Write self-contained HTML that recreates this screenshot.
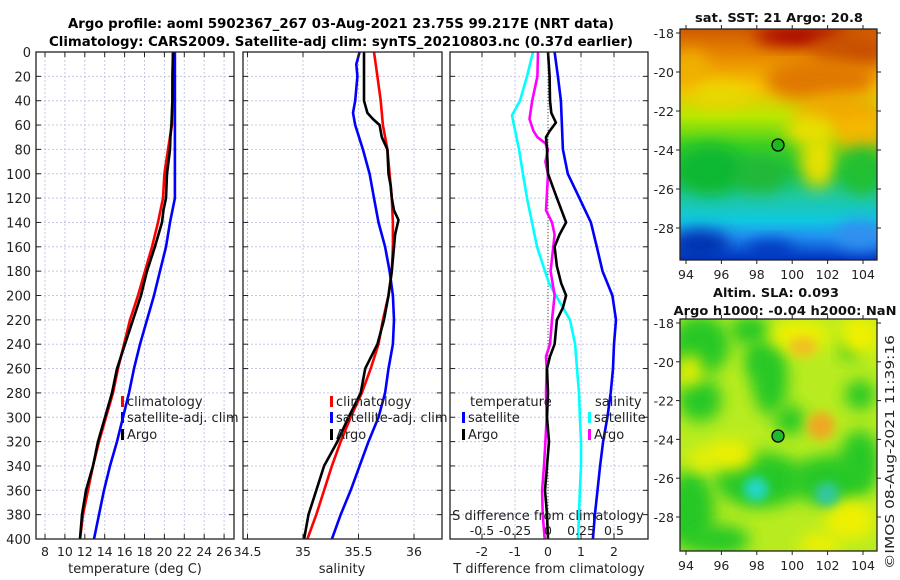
<!DOCTYPE html>
<html><head><meta charset="utf-8"><style>
html,body{margin:0;padding:0;background:#fff}
svg{display:block;font-family:"DejaVu Sans","Liberation Sans",sans-serif}
</style></head><body>
<svg id="fig" width="900" height="580" viewBox="0 0 900 580" xmlns="http://www.w3.org/2000/svg">
<defs>
<filter id="blur8" x="-50%" y="-50%" width="200%" height="200%"><feGaussianBlur stdDeviation="8"/></filter>
<filter id="blur5" x="-50%" y="-50%" width="200%" height="200%"><feGaussianBlur stdDeviation="5"/></filter>
<clipPath id="m1clip"><rect x="680" y="29" width="197" height="231"/></clipPath>
<clipPath id="m2clip"><rect x="680" y="319" width="197" height="232"/></clipPath>
<linearGradient id="sstg" x1="0" y1="0" x2="0" y2="1">
<stop offset="0" stop-color="#d05a00"/><stop offset="0.12" stop-color="#e88a00"/>
<stop offset="0.25" stop-color="#f8c400"/><stop offset="0.38" stop-color="#b8e800"/>
<stop offset="0.5" stop-color="#40d020"/><stop offset="0.62" stop-color="#18c040"/>
<stop offset="0.72" stop-color="#20c8a0"/><stop offset="0.83" stop-color="#10c8e0"/>
<stop offset="0.9" stop-color="#2090f0"/><stop offset="1" stop-color="#0030c0"/>
</linearGradient>
</defs>
<text x="341" y="28" text-anchor="middle" font-size="13" font-weight="bold" textLength="546" lengthAdjust="spacingAndGlyphs">Argo profile: aoml 5902367_267 03-Aug-2021 23.75S 99.217E (NRT data)</text>
<text x="341" y="46" text-anchor="middle" font-size="13" font-weight="bold" textLength="584" lengthAdjust="spacingAndGlyphs">Climatology: CARS2009. Satellite-adj clim: synTS_20210803.nc (0.37d earlier)</text>
<g id="panels"></g>
<g id="maps"></g>
</svg>
<script>
// ---- data ----
const depthT = [0,20,40,60,80,100,120,140,160,180,200,220,240,260,280,300,320,340,360,380,400];
const tempClim = [20.86,20.86,20.8,20.75,20.36,20.0,19.86,19.36,18.75,18.05,17.35,16.54,15.94,15.34,14.83,14.13,13.43,12.82,12.32,11.82,11.52];
const tempSat = [21.06,21.06,21.06,21.06,21.06,21.06,21.06,20.56,20.16,19.56,18.95,18.25,17.55,16.94,16.44,15.84,15.24,14.53,13.93,13.43,12.92];
const depthArgo = [0,20,40,60,70,80,100,120,130,140,160,180,200,220,240,260,280,300,320,340,360,380,400];
const tempArgo = [20.86,20.8,20.8,20.7,20.6,20.56,20.26,20.16,19.9,19.76,19.05,18.25,17.65,16.84,16.04,15.24,14.73,14.03,13.33,12.82,12.12,11.72,11.52];
const depthS = [0,20,40,60,80,100,120,140,160,180,200,220,240,260,280,300,320,340,360,380,400];
const salClim = [35.64,35.67,35.70,35.72,35.76,35.78,35.80,35.81,35.81,35.80,35.77,35.72,35.68,35.61,35.53,35.43,35.34,35.26,35.19,35.12,35.04];
const depthSatS = [0,10,20,40,50,60,80,100,120,140,160,180,200,220,240,260,280,300,320,340,360,380,400];
const salSat = [35.51,35.48,35.49,35.47,35.45,35.47,35.54,35.60,35.64,35.68,35.74,35.78,35.81,35.82,35.81,35.77,35.74,35.68,35.59,35.51,35.43,35.34,35.26];
const depthArgoS = [0,20,40,50,55,60,70,80,100,110,120,130,138,150,160,180,200,220,240,260,280,300,320,340,360,380,400];
const salArgo = [35.55,35.55,35.55,35.58,35.63,35.69,35.71,35.76,35.77,35.79,35.80,35.82,35.86,35.83,35.82,35.80,35.77,35.73,35.67,35.56,35.52,35.41,35.31,35.19,35.12,35.05,35.01];
const depthDT = [0,20,40,60,80,100,120,140,160,180,200,220,240,260,280,300,320,340,360,380,400];
const dTsat = [0.2,0.3,0.39,0.42,0.45,0.6,0.95,1.3,1.48,1.65,1.95,2.06,2.0,1.97,1.9,1.8,1.67,1.58,1.5,1.42,1.36];
const depthDTA = [0,20,40,50,58,65,70,80,100,120,140,150,160,176,190,200,210,220,240,250,260,280,300,320,340,360,380,400];
const dTargo = [0,0.05,0.06,0.1,0.24,0.05,-0.06,-0.03,0,0.27,0.55,0.35,0.2,0.27,0.4,0.55,0.45,0.27,0.2,0.06,-0.03,0,-0.03,0.03,-0.03,-0.09,-0.03,0];
const depthDS = [0,10,20,40,52,60,80,100,120,140,160,180,190,200,220,240,260,280,300,320,340,360,380,400];
const dSsat = [-0.114,-0.136,-0.159,-0.212,-0.273,-0.258,-0.22,-0.19,-0.159,-0.121,-0.083,-0.023,0.008,0.06,0.167,0.205,0.22,0.235,0.242,0.25,0.25,0.242,0.235,0.227];
const depthDSA = [0,20,40,55,65,70,75,80,90,100,120,130,140,150,160,180,200,220,240,250,260,280,300,320,340,360,380,400];
const dSargo = [-0.076,-0.08,-0.12,-0.14,-0.11,-0.08,-0.02,0,-0.02,0,-0.01,-0.015,0.03,0.05,0.04,0.02,0.05,0.03,0.015,-0.015,-0.01,-0.015,-0.01,-0.02,-0.03,-0.045,-0.04,-0.025];
const depthTicks = [0,20,40,60,80,100,120,140,160,180,200,220,240,260,280,300,320,340,360,380,400];
const tempTicks = [8,10,12,14,16,18,20,22,24,26];
const salTicks = [34.5,35,35.5,36];
const dTTicks = [-2,-1,0,1,2];
const dSTicks = [-0.5,-0.25,0,0.25,0.5];
const lonTicks = [94,96,98,100,102,104];
const latTicks = [-18,-20,-22,-24,-26,-28];

const NS="http://www.w3.org/2000/svg";
function mk(tag,attrs,parent){const e=document.createElementNS(NS,tag);for(const k in attrs)e.setAttribute(k,attrs[k]);parent.appendChild(e);return e;}
const P=document.getElementById('panels');
const TOP=52,BOT=539;
const yD=d=>TOP+d*(BOT-TOP)/400;
const xT=t=>45+(t-8)*9.95;
const xS=s=>303+(s-35)*111;
const xdT=v=>548+v*33;
const xdS=v=>548+v*132;
const panels=[[36,234],[243,442],[450,648]];

panels.forEach((p,i)=>{
  const g=mk('g',{},P);
  
  
  depthTicks.forEach(d=>{
    const l=mk('line',{x1:p[0],x2:p[1],y1:yD(d),y2:yD(d),stroke:'#c4c8e6','stroke-width':1,'stroke-dasharray':'2,2'},g);
    
    
  });
  const vt=i===0?tempTicks.map(xT):i===1?salTicks.map(xS):dTTicks.map(xdT);
  vt.forEach(x=>{
    const l=mk('line',{x1:x,x2:x,y1:TOP,y2:BOT,stroke:'#c4c8e6','stroke-width':1,'stroke-dasharray':'2,2'},g);
    
    
  });
});

function line(xs,ds,fx,color,name,w){
  let d='';
  xs.forEach((v,k)=>{d+=(k?'L':'M')+fx(v).toFixed(1)+','+yD(ds[k]).toFixed(1);});
  const e=mk('path',{d:d,fill:'none',stroke:color,'stroke-width':w||2.6,'stroke-linejoin':'round'},P);
  
  
}
const zl=mk('line',{x1:xdT(0),x2:xdT(0),y1:TOP,y2:BOT,stroke:'#555533','stroke-width':1,'stroke-dasharray':'1,2'},P);



line(tempClim,depthT,xT,'#ff0000','temp-climatology-line');
line(tempSat,depthT,xT,'#0000ff','temp-satellite-line');
line(tempArgo,depthArgo,xT,'#000000','temp-argo-line');
line(salClim,depthS,xS,'#ff0000','sal-climatology-line');
line(salSat,depthSatS,xS,'#0000ff','sal-satellite-line');
line(salArgo,depthArgoS,xS,'#000000','sal-argo-line');
line(dSsat,depthDS,xdS,'#00ffff','sdiff-satellite-line');
line(dTsat,depthDT,xdT,'#0000ff','tdiff-satellite-line');
line(dSargo,depthDSA,xdS,'#ff00ff','sdiff-argo-line');
line(dTargo,depthDTA,xdT,'#000000','tdiff-argo-line');

panels.forEach((p,i)=>{
  const f=mk('rect',{x:p[0],y:TOP,width:p[1]-p[0],height:BOT-TOP,fill:'none',stroke:'#222','stroke-width':1.3},P);
  
  
  depthTicks.forEach(d=>{
    const y=yD(d);
    mk('line',{x1:p[0],x2:p[0]+5,y1:y,y2:y,stroke:'#222'},P);
    mk('line',{x1:p[1]-5,x2:p[1],y1:y,y2:y,stroke:'#222'},P);
  });
  const vt=i===0?tempTicks.map(xT):i===1?salTicks.map(xS):dTTicks.map(xdT);
  vt.forEach(x=>{mk('line',{x1:x,x2:x,y1:BOT,y2:BOT-5,stroke:'#222'},P);mk('line',{x1:x,x2:x,y1:TOP,y2:TOP+5,stroke:'#222'},P);});
});
depthTicks.forEach(d=>{
  const t=mk('text',{x:31,y:yD(d)+5,'text-anchor':'end','font-size':13,fill:'#222'},P);
  t.textContent=d;
  
  
});
function xlab(vals,fx,y,fmt,name){
  vals.forEach(v=>{
    const t=mk('text',{x:fx(v),y:y,'text-anchor':'middle','font-size':12.5,fill:'#222'},P);
    t.textContent=fmt(v);
    
    
  });
}
xlab(tempTicks,xT,556,v=>String(v),'temp-tick-label');
xlab(salTicks,xS,556,v=>String(v),'sal-tick-label');
xlab(dTTicks,xdT,556,v=>String(v),'tdiff-tick-label');
xlab(dSTicks,xdS,535,v=>String(v),'sdiff-tick-label');
function txt(x,y,s,name,opts){
  const t=mk('text',Object.assign({x:x,y:y,'font-size':13,fill:'#222'},opts||{}),P);
  t.textContent=s;
  
  
  return t;
}
txt(135,573,'temperature (deg C)','temp-axis-title',{'text-anchor':'middle'});
txt(342,573,'salinity','sal-axis-title',{'text-anchor':'middle'});
txt(549,573,'T difference from climatology','tdiff-axis-title',{'text-anchor':'middle'});
txt(548,520,'S difference from climatology','sdiff-axis-title',{'text-anchor':'middle'});

function legend(x,y,color,label,name){
  const r=mk('rect',{x:x,y:y-10,width:3,height:11,fill:color},P);
  
  
  txt(x+6,y,label,name);
}
legend(121,406,'#ff0000','climatology','legend-t-climatology');
legend(121,422,'#0000ff','satellite-adj. clim','legend-t-satellite');
legend(121,439,'#000000','Argo','legend-t-argo');
legend(330,406,'#ff0000','climatology','legend-s-climatology');
legend(330,422,'#0000ff','satellite-adj. clim','legend-s-satellite');
legend(330,439,'#000000','Argo','legend-s-argo');
txt(470,406,'temperature','legend-temperature-heading');
legend(462,422,'#0000ff','satellite','legend-tdiff-satellite');
legend(462,439,'#000000','Argo','legend-tdiff-argo');
txt(595,406,'salinity','legend-salinity-heading');
legend(588,422,'#00ffff','satellite','legend-sdiff-satellite');
legend(588,439,'#ff00ff','Argo','legend-sdiff-argo');

// ---- maps ----
const M=document.getElementById('maps');
function ell(g,cx,cy,rx,ry,c,f){mk('ellipse',{cx:cx,cy:cy,rx:rx,ry:ry,fill:c,filter:'url(#'+(f||'blur8')+')'},g);}
const m1=mk('g',{'clip-path':'url(#m1clip)'},M);


mk('rect',{x:680,y:29,width:197,height:231,fill:'url(#sstg)'},m1);
ell(m1,800,36,45,10,'#a80000');ell(m1,850,50,40,18,'#c85000');ell(m1,820,80,55,22,'#e07800');
ell(m1,840,115,45,22,'#f0a800');ell(m1,860,135,25,20,'#f8b800');ell(m1,818,160,18,28,'#e8e000');ell(m1,810,130,25,15,'#e8e000');
ell(m1,690,70,20,20,'#f0b000');ell(m1,720,95,30,12,'#e8d800');
ell(m1,710,170,35,25,'#10b830');ell(m1,760,175,25,18,'#20b838');ell(m1,862,170,20,25,'#20c030');
ell(m1,700,245,30,15,'#0030b0');ell(m1,770,250,25,10,'#0038c0');ell(m1,860,235,25,15,'#3090f0');
const m2=mk('g',{'clip-path':'url(#m2clip)'},M);


mk('rect',{x:680,y:319,width:197,height:232,fill:'#b8ec20'},m2);
[[700,345,30,30],[750,330,20,15],[770,380,18,35],[700,400,22,22],[690,510,25,40],[760,480,45,28],[830,480,40,25],[860,460,20,30],[860,395,15,15],[850,350,10,10],[720,540,30,15],[790,420,15,15],[760,360,15,20]].forEach(a=>ell(m2,a[0],a[1],a[2],a[3],'#28c828'));
[[860,335,20,20],[800,335,30,15],[690,370,12,15],[730,455,25,15],[850,520,25,20],[820,545,20,12],[700,460,12,10]].forEach(a=>ell(m2,a[0],a[1],a[2],a[3],'#f0f000'));
ell(m2,803,347,14,10,'#f0c020','blur5');ell(m2,821,426,14,14,'#f0a820','blur5');
ell(m2,756,489,12,12,'#20d8c8','blur5');ell(m2,827,494,12,12,'#30c8a0','blur5');
[[29,260,'sst'],[319,551,'sla']].forEach((b,i)=>{
  const f=mk('rect',{x:680,y:b[0],width:197,height:b[1]-b[0],fill:'none',stroke:'#222','stroke-width':1.3},M);
  
  
  const y0=i?323:33, dy=i?19.4:19.5;
  latTicks.forEach(v=>{
    const y=y0+(-18-v)*dy;
    mk('line',{x1:680,x2:676,y1:y,y2:y,stroke:'#222'},M);
    mk('line',{x1:877,x2:881,y1:y,y2:y,stroke:'#222'},M);
    const t=mk('text',{x:674,y:y+5,'text-anchor':'end','font-size':12.5,fill:'#222'},M);
    t.textContent=v;
    
    
  });
  lonTicks.forEach(v=>{
    const x=686+(v-94)*17.7;
    mk('line',{x1:x,x2:x,y1:b[1],y2:b[1]+4,stroke:'#222'},M);
    mk('line',{x1:x,x2:x,y1:b[0],y2:b[0]-4,stroke:'#222'},M);
    const t=mk('text',{x:x,y:b[1]+19,'text-anchor':'middle','font-size':12.5,fill:'#222'},M);
    t.textContent=v;
    
    
  });
});
const c1=mk('circle',{cx:778,cy:145,r:6,fill:'#20b820',stroke:'#000','stroke-width':1.3},M);


const c2=mk('circle',{cx:778,cy:436,r:6,fill:'#20b830',stroke:'#000','stroke-width':1.3},M);


function mt(x,y,s,name,extra){
  const t=mk('text',Object.assign({x:x,y:y,'text-anchor':'middle','font-size':12.5,'font-weight':'bold',fill:'#111'},extra||{}),M);
  t.textContent=s;
  
  
}
mt(779,22,'sat. SST: 21 Argo: 20.8','sst-map-title',{textLength:168,lengthAdjust:'spacingAndGlyphs'});
mt(776,297,'Altim. SLA: 0.093','sla-map-title',{textLength:126,lengthAdjust:'spacingAndGlyphs'});
mt(785,315,'Argo h1000: -0.04 h2000: NaN','sla-argo-heights',{textLength:223,lengthAdjust:'spacingAndGlyphs'});
const cr=mk('text',{x:0,y:0,'text-anchor':'middle','font-size':12.5,fill:'#222',transform:'translate(894,452) rotate(-90)',textLength:234,lengthAdjust:'spacingAndGlyphs'},M);
cr.textContent='©IMOS 08-Aug-2021 11:39:16';


</script>
</body></html>
